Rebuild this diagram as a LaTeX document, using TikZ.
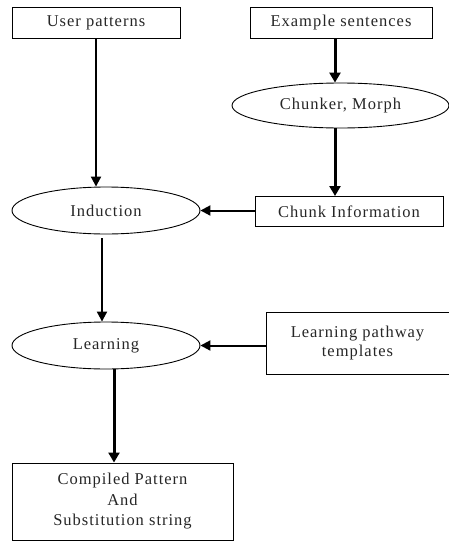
\documentclass[tikz,border=0pt]{standalone}
\usepackage{fontspec}
\setmainfont[LetterSpace=6]{Liberation Serif}
\usetikzlibrary{shapes.geometric,arrows.meta}
\tikzset{
  txt/.style={font=\fontsize{16.5}{20.5}\selectfont, text=black!85, align=center, inner sep=0pt},
  boxnode/.style={txt, draw=black, line width=1pt, rectangle},
  ellnode/.style={txt, draw=black, line width=0.9pt, ellipse},
  thinarrow/.style={line width=2pt, -{Triangle[length=10pt,width=10pt]}},
  thickarrow/.style={line width=3pt, -{Triangle[length=10pt,width=11pt]}}
}
\begin{document}
\begin{tikzpicture}[x=1pt,y=-1pt]
\useasboundingbox (0,0) rectangle (449,541);
\node[boxnode, minimum width=168pt, minimum height=31pt] (up) at (96,22.5) {User patterns};
\node[boxnode, minimum width=182pt, minimum height=31pt] (ex) at (341,22.5) {Example sentences};
\node[ellnode, minimum width=217pt, minimum height=45pt] (chk) at (340.5,105.5) {Chunker, Morph};
\node[boxnode, minimum width=188pt, minimum height=30pt] (ci) at (349,211.5) {Chunk Information};
\node[ellnode, minimum width=188pt, minimum height=47pt] (ind) at (106,210.5) {Induction};
\node[ellnode, minimum width=188pt, minimum height=47pt] (lrn) at (106,345.5) {Learning};
\node[boxnode, minimum width=183pt, minimum height=62pt] (lpt) at (357.5,343) {Learning pathway\\[-1pt]templates};
\node[boxnode, minimum width=221pt, minimum height=77pt] (cp) at (122.5,501.5) {Compiled Pattern\\And\\Substitution string};

\draw[thinarrow] (up.south) -- (up.south |- ind.north);
\draw[thickarrow] ([xshift=-6pt]ex.south) -- ([xshift=-6pt]ex.south |- chk.north);
\draw[thickarrow] ([xshift=-5.5pt]chk.south) -- ([xshift=-5.5pt]chk.south |- ci.north);
\draw[thinarrow] (ci.west |- ind.east) -- (ind.east);
\draw[thinarrow] ([xshift=-4pt,yshift=-4pt]ind.south) -- ([xshift=-4pt]ind.south |- lrn.north);
\draw[thinarrow] (lpt.west |- lrn.east) -- (lrn.east);
\draw[thickarrow] ([xshift=8pt]lrn.south) -- ([xshift=8pt]lrn.south |- cp.north);
\end{tikzpicture}
\end{document}
